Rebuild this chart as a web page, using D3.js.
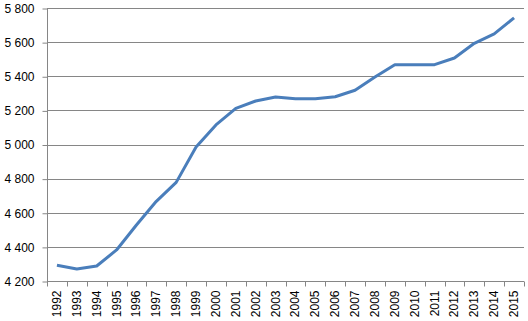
<!DOCTYPE html>
<html>
<head>
<meta charset="utf-8">
<script src="https://cdn.jsdelivr.net/npm/d3@7"></script>
<style>
  body { margin: 0; background: #fff; }
  text { font-family: "Liberation Sans", Arial, sans-serif; font-size: 12px; fill: #000; }
</style>
</head>
<body>
<div id="chart"></div>
<script>
var years = ["1992","1993","1994","1995","1996","1997","1998","1999","2000","2001","2002","2003",
             "2004","2005","2006","2007","2008","2009","2010","2011","2012","2013","2014","2015"];
var values = [4292, 4270, 4288, 4382, 4528, 4667, 4778, 4985, 5115, 5212, 5255, 5278,
              5268, 5268, 5280, 5318, 5395, 5468, 5468, 5468, 5507, 5593, 5648, 5742];
var yTicks = [4200, 4400, 4600, 4800, 5000, 5200, 5400, 5600, 5800];

var W = 528, H = 321;
var margin = {top: 8, right: 4, bottom: 40, left: 47};
var width = W - margin.left - margin.right,
    height = H - margin.top - margin.bottom;

var svg = d3.select("#chart").append("svg")
    .attr("width", W).attr("height", H)
  .append("g")
    .attr("transform", "translate(" + margin.left + "," + margin.top + ")");

var x = d3.scaleBand().domain(years).range([0, width]);
var y = d3.scaleLinear().domain([4200, 5800]).range([height, 0]);

var fmt = function(d) { return d3.format(",")(d).replace(",", " "); };

// gridlines
svg.append("g").selectAll("line")
  .data(yTicks.slice(1))
  .enter().append("line")
    .attr("x1", 0).attr("x2", width)
    .attr("y1", function(d) { return Math.round(y(d)) + 0.5; })
    .attr("y2", function(d) { return Math.round(y(d)) + 0.5; })
    .attr("stroke", "#868686").attr("stroke-width", 1);

// y axis
var yAxis = svg.append("g")
  .attr("transform", "translate(0.5,0.5)")
  .call(d3.axisLeft(y).tickValues(yTicks).tickFormat(fmt).tickSize(5).tickPadding(8));
yAxis.selectAll("path, line").attr("stroke", "#868686");
yAxis.select(".domain").attr("d", "M0," + y(5800) + "V" + height);
yAxis.selectAll("text").style("font-size", "12px").style("font-family", "'Liberation Sans', Arial, sans-serif");

// x axis with ticks at band edges
var xg = svg.append("g").attr("transform", "translate(0," + (Math.round(height) + 0.5) + ")");
xg.append("line").attr("x1", 0).attr("x2", width).attr("stroke", "#868686");
xg.selectAll("line.tk")
  .data(d3.range(years.length + 1))
  .enter().append("line").attr("class", "tk")
    .attr("x1", function(i) { return Math.round(i * x.bandwidth()) + 0.5; })
    .attr("x2", function(i) { return Math.round(i * x.bandwidth()) + 0.5; })
    .attr("y1", 0).attr("y2", 5)
    .attr("stroke", "#868686");
xg.selectAll("text")
  .data(years)
  .enter().append("text")
    .attr("transform", function(d) {
      return "translate(" + (x(d) + x.bandwidth() / 2 + 4) + ",9)rotate(-90)";
    })
    .attr("text-anchor", "end")
    .text(function(d) { return d; });

// line
var line = d3.line()
  .x(function(d, i) { return x(years[i]) + x.bandwidth() / 2; })
  .y(function(d) { return y(d); });

svg.append("path")
  .datum(values)
  .attr("d", line)
  .attr("fill", "none")
  .attr("stroke", "#4a7ebb")
  .attr("stroke-width", 3)
  .attr("stroke-linejoin", "round");
</script>
</body>
</html>
